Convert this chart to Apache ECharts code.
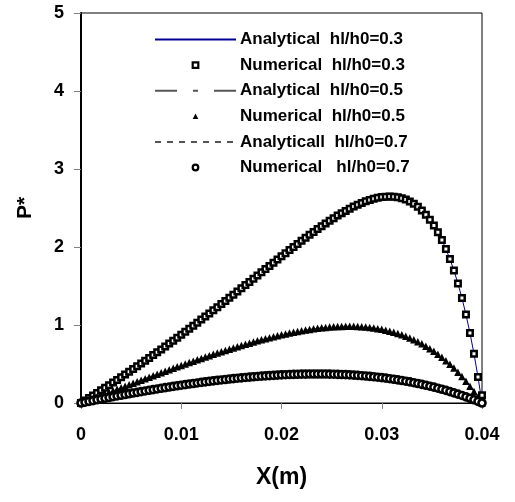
<!DOCTYPE html>
<html>
<head>
<meta charset="utf-8">
<script src="https://cdn.jsdelivr.net/npm/echarts@6/dist/echarts.min.js"></script>
<style>
html,body{margin:0;padding:0;background:#fff;}
#chart{width:515px;height:502px;}
</style>
</head>
<body>
<div id="chart"></div>
<script>
var xValues = [0,0.0004,0.0008,0.0012,0.0016,0.002,0.0024,0.0028,0.0032,0.0036,0.004,0.0044,0.0048,0.0052,0.0056,0.006,0.0064,0.0068,0.0072,0.0076,0.008,0.0084,0.0088,0.0092,0.0096,
0.01,0.0104,0.0108,0.0112,0.0116,0.012,0.0124,0.0128,0.0132,0.0136,0.014,0.0144,0.0148,0.0152,0.0156,0.016,0.0164,0.0168,0.0172,0.0176,0.018,0.0184,0.0188,0.0192,0.0196,
0.02,0.0204,0.0208,0.0212,0.0216,0.022,0.0224,0.0228,0.0232,0.0236,0.024,0.0244,0.0248,0.0252,0.0256,0.026,0.0264,0.0268,0.0272,0.0276,0.028,0.0284,0.0288,0.0292,0.0296,
0.03,0.0304,0.0308,0.0312,0.0316,0.032,0.0324,0.0328,0.0332,0.0336,0.034,0.0344,0.0348,0.0352,0.0356,0.036,0.0364,0.0368,0.0372,0.0376,0.038,0.0384,0.0388,0.0392,0.0396,
0.04];

var analytical03 = [0,0.0319,0.0640,0.0965,0.1291,0.1621,0.1952,0.2287,0.2624,0.2964,
0.3306,0.3651,0.3998,0.4349,0.4701,0.5057,0.5415,0.5776,0.6139,0.6505,
0.6873,0.7244,0.7617,0.7993,0.8371,0.8752,0.9135,0.9521,0.9908,1.0298,
1.0690,1.1084,1.1480,1.1878,1.2278,1.2679,1.3083,1.3487,1.3893,1.4300,
1.4708,1.5117,1.5527,1.5937,1.6347,1.6757,1.7168,1.7577,1.7985,1.8393,
1.8799,1.9203,1.9604,2.0003,2.0398,2.0789,2.1177,2.1558,2.1934,2.2304,
2.2666,2.3020,2.3364,2.3699,2.4023,2.4333,2.4631,2.4913,2.5177,2.5424,
2.5651,2.5854,2.6034,2.6187,2.6311,2.6402,2.6458,2.6475,2.6449,2.6378,
2.6256,2.6078,2.5839,2.5534,2.5155,2.4695,2.4148,2.3503,2.2751,2.1883,
2.0886,1.9746,1.8449,1.6980,1.5320,1.3447,1.1340,0.8972,0.6315,0.3337,
0];

var numerical03 = [0,0.0319,0.0640,0.0965,0.1291,0.1621,0.1952,0.2287,0.2624,0.2964,
0.3306,0.3651,0.3998,0.4349,0.4701,0.5057,0.5415,0.5776,0.6139,0.6505,
0.6873,0.7244,0.7617,0.7993,0.8371,0.8752,0.9135,0.9521,0.9908,1.0298,
1.0690,1.1084,1.1480,1.1878,1.2278,1.2679,1.3083,1.3487,1.3893,1.4300,
1.4708,1.5117,1.5527,1.5937,1.6347,1.6757,1.7168,1.7577,1.7985,1.8393,
1.8799,1.9203,1.9604,2.0003,2.0398,2.0789,2.1177,2.1558,2.1934,2.2304,
2.2666,2.3020,2.3364,2.3699,2.4023,2.4333,2.4631,2.4913,2.5177,2.5424,
2.5651,2.5854,2.6034,2.6187,2.6311,2.6402,2.6458,2.6475,2.6449,2.6378,
2.6256,2.6078,2.5839,2.5534,2.5155,2.4695,2.4148,2.3503,2.2751,2.1883,
2.0886,1.9746,1.8449,1.6980,1.5320,1.3447,1.1340,0.8972,0.6315,0.3337,
0.1];

var analytical05 = [0,0.0197,0.0393,0.0590,0.0786,0.0983,0.1179,0.1375,0.1571,0.1766,
0.1961,0.2156,0.2350,0.2544,0.2738,0.2931,0.3123,0.3315,0.3505,0.3696,
0.3885,0.4073,0.4261,0.4447,0.4632,0.4816,0.4999,0.5181,0.5361,0.5539,
0.5716,0.5892,0.6065,0.6237,0.6406,0.6574,0.6739,0.6902,0.7062,0.7220,
0.7375,0.7527,0.7676,0.7822,0.7965,0.8104,0.8240,0.8371,0.8499,0.8622,
0.8741,0.8855,0.8964,0.9069,0.9167,0.9261,0.9348,0.9429,0.9504,0.9572,
0.9633,0.9686,0.9732,0.9770,0.9799,0.9820,0.9831,0.9833,0.9824,0.9805,
0.9775,0.9734,0.9680,0.9613,0.9534,0.9440,0.9332,0.9209,0.9070,0.8914,
0.8741,0.8550,0.8339,0.8109,0.7857,0.7584,0.7288,0.6968,0.6623,0.6251,
0.5851,0.5423,0.4964,0.4473,0.3949,0.3389,0.2793,0.2158,0.1482,0.0763,
0];

var numerical05 = [0,0.0197,0.0393,0.0590,0.0786,0.0983,0.1179,0.1375,0.1571,0.1766,
0.1961,0.2156,0.2350,0.2544,0.2738,0.2931,0.3123,0.3315,0.3505,0.3696,
0.3885,0.4073,0.4261,0.4447,0.4632,0.4816,0.4999,0.5181,0.5361,0.5539,
0.5716,0.5892,0.6065,0.6237,0.6406,0.6574,0.6739,0.6902,0.7062,0.7220,
0.7375,0.7527,0.7676,0.7822,0.7965,0.8104,0.8240,0.8371,0.8499,0.8622,
0.8741,0.8855,0.8964,0.9069,0.9167,0.9261,0.9348,0.9429,0.9504,0.9572,
0.9633,0.9686,0.9732,0.9770,0.9799,0.9820,0.9831,0.9833,0.9824,0.9805,
0.9775,0.9734,0.9680,0.9613,0.9534,0.9440,0.9332,0.9209,0.9070,0.8914,
0.8741,0.8550,0.8339,0.8109,0.7857,0.7584,0.7288,0.6968,0.6623,0.6251,
0.5851,0.5423,0.4964,0.4473,0.3949,0.3389,0.2793,0.2158,0.1482,0.0763,
0];

var analytical07 = [0,0.0104,0.0207,0.0309,0.0410,0.0510,0.0609,0.0707,0.0804,0.0901,
0.0996,0.1090,0.1183,0.1275,0.1366,0.1456,0.1544,0.1631,0.1717,0.1802,
0.1885,0.1967,0.2048,0.2127,0.2205,0.2282,0.2357,0.2430,0.2502,0.2572,
0.2640,0.2707,0.2772,0.2836,0.2897,0.2957,0.3015,0.3071,0.3125,0.3177,
0.3227,0.3275,0.3320,0.3364,0.3405,0.3444,0.3481,0.3515,0.3547,0.3576,
0.3603,0.3627,0.3648,0.3667,0.3683,0.3696,0.3706,0.3713,0.3718,0.3718,
0.3716,0.3711,0.3702,0.3690,0.3674,0.3655,0.3633,0.3606,0.3576,0.3542,
0.3503,0.3461,0.3415,0.3364,0.3310,0.3250,0.3187,0.3118,0.3045,0.2967,
0.2884,0.2796,0.2703,0.2605,0.2501,0.2392,0.2277,0.2156,0.2030,0.1897,
0.1758,0.1613,0.1462,0.1304,0.1139,0.0967,0.0789,0.0603,0.0409,0.0209,
0];

var numerical07 = [0,0.0104,0.0207,0.0309,0.0410,0.0510,0.0609,0.0707,0.0804,0.0901,
0.0996,0.1090,0.1183,0.1275,0.1366,0.1456,0.1544,0.1631,0.1717,0.1802,
0.1885,0.1967,0.2048,0.2127,0.2205,0.2282,0.2357,0.2430,0.2502,0.2572,
0.2640,0.2707,0.2772,0.2836,0.2897,0.2957,0.3015,0.3071,0.3125,0.3177,
0.3227,0.3275,0.3320,0.3364,0.3405,0.3444,0.3481,0.3515,0.3547,0.3576,
0.3603,0.3627,0.3648,0.3667,0.3683,0.3696,0.3706,0.3713,0.3718,0.3718,
0.3716,0.3711,0.3702,0.3690,0.3674,0.3655,0.3633,0.3606,0.3576,0.3542,
0.3503,0.3461,0.3415,0.3364,0.3310,0.3250,0.3187,0.3118,0.3045,0.2967,
0.2884,0.2796,0.2703,0.2605,0.2501,0.2392,0.2277,0.2156,0.2030,0.1897,
0.1758,0.1613,0.1462,0.1304,0.1139,0.0967,0.0789,0.0603,0.0409,0.0209,
0];

var seriesNames = [
  'Analytical  hl/h0=0.3',
  'Numerical  hl/h0=0.3',
  'Analytical  hl/h0=0.5',
  'Numerical  hl/h0=0.5',
  'Analyticall  hl/h0=0.7',
  'Numerical   hl/h0=0.7'
];
var xAxisTitle = 'X(m)';
var yAxisTitle = 'P*';

function pairs(ys) {
  var out = [];
  for (var i = 0; i < xValues.length; i++) out.push([xValues[i], ys[i]]);
  return out;
}

var FONT = '"Liberation Sans", Arial, sans-serif';
var hiddenDot = {color: 'rgba(0,0,0,0)', borderColor: 'rgba(0,0,0,0)', borderWidth: 0};
var noLine = {opacity: 0, width: 0};
var chart = echarts.init(document.getElementById('chart'), null, {renderer: 'canvas'});
chart.setOption({
  animation: false,
  backgroundColor: '#fff',
  grid: {left: 81, top: 13, width: 401, height: 390, show: true, borderColor: '#000', borderWidth: 1, backgroundColor: 'transparent'},
  legend: {
    orient: 'vertical', left: 154, top: 31, padding: 0, itemWidth: 81, itemHeight: 7, itemGap: 8.6,
    selectedMode: false,
    textStyle: {fontFamily: FONT, fontWeight: 'bold', fontSize: 17, color: '#000', padding: [0, 0, 0, -1]},
    data: [
      {name: seriesNames[0], itemStyle: hiddenDot},
      {name: seriesNames[1], itemStyle: {borderWidth: 2.2}},
      {name: seriesNames[2], itemStyle: hiddenDot},
      {name: seriesNames[3]},
      {name: seriesNames[4], itemStyle: hiddenDot},
      {name: seriesNames[5], itemStyle: {borderWidth: 2.2}}
    ]
  },
  xAxis: {
    type: 'value', min: 0, max: 0.04, interval: 0.01,
    name: xAxisTitle, nameLocation: 'middle', nameGap: 63,
    nameTextStyle: {fontFamily: FONT, fontWeight: 'bold', fontSize: 23, color: '#000'},
    axisLine: {show: true, onZero: false, lineStyle: {color: '#000', width: 1}},
    axisTick: {show: true, length: 6, lineStyle: {color: '#808080'}},
    axisLabel: {margin: 23, fontFamily: FONT, fontWeight: 'bold', fontSize: 18, color: '#000'},
    splitLine: {show: false}
  },
  yAxis: {
    type: 'value', min: 0, max: 5, interval: 1,
    name: yAxisTitle, nameLocation: 'middle', nameGap: 45, nameRotate: 90,
    nameTextStyle: {fontFamily: FONT, fontWeight: 'bold', fontSize: 21, color: '#000'},
    axisLine: {show: true, onZero: false, lineStyle: {color: '#000', width: 2}},
    axisTick: {show: true, length: 7, lineStyle: {color: '#808080'}},
    axisLabel: {margin: 17, fontFamily: FONT, fontWeight: 'bold', fontSize: 18, color: '#000'},
    splitLine: {show: false}
  },
  series: [
    {name: seriesNames[0], type: 'line', data: pairs(analytical03), symbol: 'none', smooth: false,
     lineStyle: {color: '#000099', width: 1}, itemStyle: {color: '#000099'}, z: 2},
    {name: seriesNames[1], type: 'line', data: pairs(numerical03), symbol: 'rect', symbolSize: 5.5, showSymbol: true,
     lineStyle: noLine, itemStyle: {color: '#fff', borderColor: '#000', borderWidth: 2.5, opacity: 1}, z: 3},
    {name: seriesNames[2], type: 'line', data: pairs(analytical05), symbol: 'none',
     lineStyle: {color: '#555', width: 1.2, type: [22, 16, 5, 16]}, itemStyle: {color: '#555'}, z: 2},
    {name: seriesNames[3], type: 'line', data: pairs(numerical05), symbol: 'triangle', symbolSize: 7.5, showSymbol: true,
     lineStyle: noLine, itemStyle: {color: '#000', opacity: 1}, z: 3},
    {name: seriesNames[4], type: 'line', data: pairs(analytical07), symbol: 'none',
     lineStyle: {color: '#555', width: 1.2, type: [6, 6]}, itemStyle: {color: '#555'}, z: 2},
    {name: seriesNames[5], type: 'line', data: pairs(numerical07), symbol: 'circle', symbolSize: 7, showSymbol: true,
     lineStyle: noLine, itemStyle: {color: '#fff', borderColor: '#000', borderWidth: 2.6, opacity: 1}, z: 3}
  ]
});
</script>
</body>
</html>
